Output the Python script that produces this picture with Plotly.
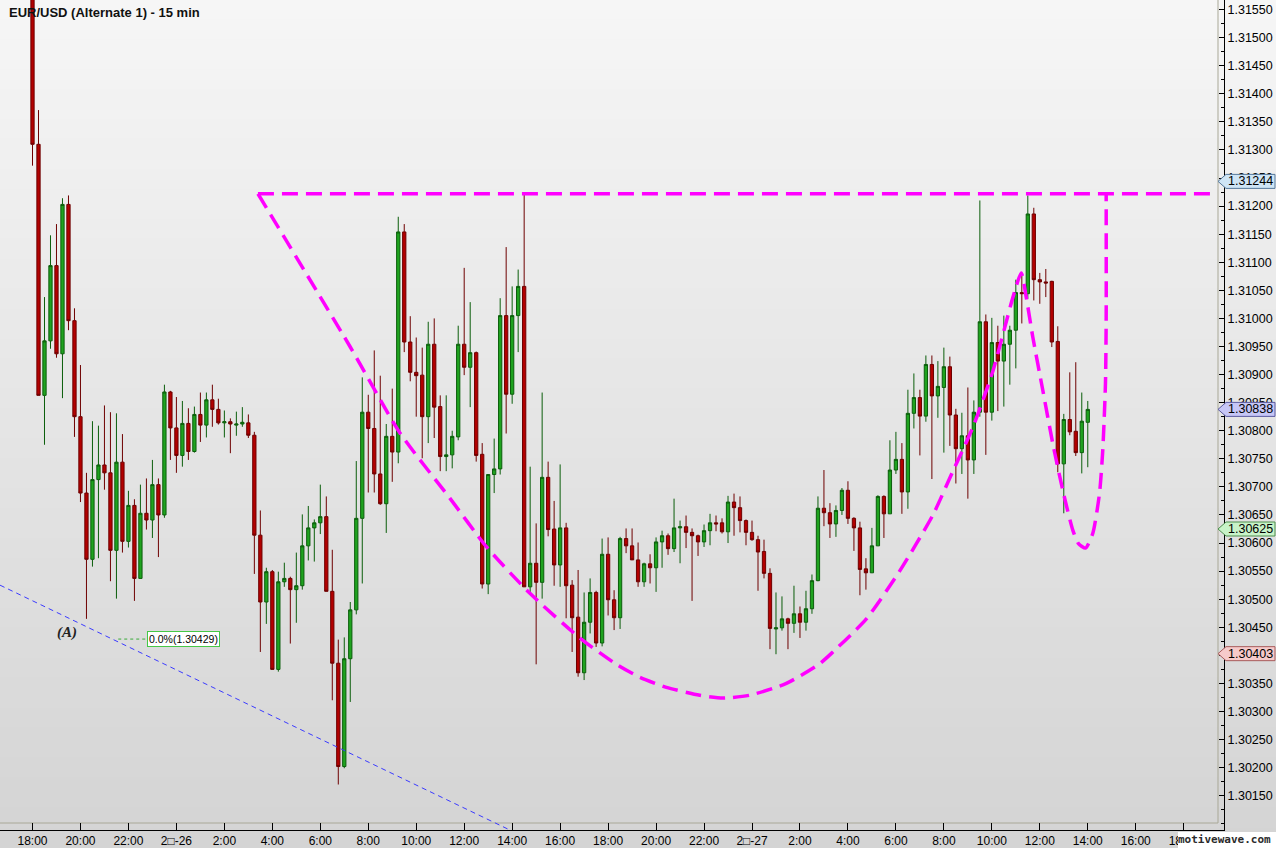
import plotly.graph_objects as go

# ---------------- data ----------------
title_text = "EUR/USD (Alternate 1) - 15 min"

opens = [1.31619, 1.31310, 1.30863, 1.30960, 1.31094, 1.30937, 1.31203, 1.30996, 1.30825, 1.30689,
         1.30571, 1.30713, 1.30739, 1.30725, 1.30587, 1.30744, 1.30603, 1.30667, 1.30537, 1.30653,
         1.30641, 1.30704, 1.30650, 1.30869, 1.30805, 1.30756, 1.30813, 1.30763, 1.30829, 1.30810,
         1.30855, 1.30838, 1.30814, 1.30816, 1.30810, 1.30812, 1.30814, 1.30792, 1.30614, 1.30495,
         1.30549, 1.30375, 1.30531, 1.30537, 1.30517, 1.30524, 1.30595, 1.30627, 1.30636, 1.30647,
         1.30514, 1.30386, 1.30202, 1.30394, 1.30481, 1.30644, 1.30833, 1.30804, 1.30723, 1.30670,
         1.30790, 1.30762, 1.31154, 1.30958, 1.30904, 1.30899, 1.30825, 1.30954, 1.30843, 1.30754,
         1.30757, 1.30789, 1.30954, 1.30913, 1.30939, 1.30758, 1.30527, 1.30722, 1.30732, 1.31005,
         1.30865, 1.31005, 1.31057, 1.30522, 1.30564, 1.30530, 1.30717, 1.30625, 1.30561, 1.30627,
         1.30525, 1.30468, 1.30369, 1.30459, 1.30512, 1.30422, 1.30580, 1.30499, 1.30467, 1.30608,
         1.30595, 1.30570, 1.30531, 1.30563, 1.30556, 1.30602, 1.30613, 1.30590, 1.30627, 1.30629,
         1.30619, 1.30613, 1.30602, 1.30622, 1.30636, 1.30636, 1.30620, 1.30673, 1.30663, 1.30640,
         1.30619, 1.30606, 1.30585, 1.30546, 1.30447, 1.30449, 1.30465, 1.30457, 1.30474, 1.30459,
         1.30483, 1.30533, 1.30662, 1.30654, 1.30634, 1.30658, 1.30694, 1.30644, 1.30627, 1.30554,
         1.30547, 1.30595, 1.30683, 1.30652, 1.30730, 1.30749, 1.30691, 1.30831, 1.30859, 1.30826,
         1.30918, 1.30862, 1.30877, 1.30914, 1.30828, 1.30768, 1.30791, 1.30748, 1.30833, 1.30994,
         1.30833, 1.30957, 1.30924, 1.30954, 1.30979, 1.31046, 1.31044, 1.31186, 1.31069, 1.31065,
         1.31066, 1.30959, 1.30741, 1.30820, 1.30799, 1.30761, 1.30815]

highs = [1.31637, 1.31371, 1.31038, 1.31148, 1.31168, 1.31214, 1.31219, 1.31018, 1.30917, 1.30725,
         1.30817, 1.30809, 1.30845, 1.30833, 1.30831, 1.30794, 1.30693, 1.30678, 1.30704, 1.30715,
         1.30748, 1.30715, 1.30882, 1.30871, 1.30860, 1.30853, 1.30840, 1.30843, 1.30868, 1.30868,
         1.30882, 1.30857, 1.30836, 1.30822, 1.30834, 1.30842, 1.30829, 1.30798, 1.30658, 1.30556,
         1.30552, 1.30549, 1.30565, 1.30540, 1.30583, 1.30651, 1.30666, 1.30642, 1.30704, 1.30683,
         1.30588, 1.30428, 1.30432, 1.30495, 1.30746, 1.30895, 1.30864, 1.30943, 1.30898, 1.30812,
         1.30875, 1.31181, 1.31168, 1.31004, 1.30966, 1.30948, 1.30994, 1.31000, 1.30863, 1.30863,
         1.30800, 1.30987, 1.31090, 1.31029, 1.30941, 1.30778, 1.30722, 1.30786, 1.31036, 1.31127,
         1.31057, 1.31087, 1.31221, 1.30736, 1.30635, 1.30868, 1.30745, 1.30675, 1.30740, 1.30636,
         1.30534, 1.30552, 1.30512, 1.30537, 1.30515, 1.30608, 1.30610, 1.30516, 1.30611, 1.30626,
         1.30626, 1.30601, 1.30565, 1.30580, 1.30610, 1.30622, 1.30617, 1.30679, 1.30640, 1.30649,
         1.30626, 1.30615, 1.30633, 1.30652, 1.30649, 1.30644, 1.30684, 1.30688, 1.30683, 1.30642,
         1.30640, 1.30613, 1.30606, 1.30555, 1.30512, 1.30505, 1.30467, 1.30524, 1.30487, 1.30515,
         1.30544, 1.30683, 1.30730, 1.30671, 1.30667, 1.30698, 1.30710, 1.30646, 1.30638, 1.30573,
         1.30627, 1.30685, 1.30685, 1.30783, 1.30798, 1.30778, 1.30873, 1.30902, 1.30873, 1.30934,
         1.30934, 1.30924, 1.30948, 1.30932, 1.30839, 1.30832, 1.30877, 1.30854, 1.31210, 1.31007,
         1.31001, 1.30987, 1.31005, 1.30987, 1.31069, 1.31077, 1.31219, 1.31197, 1.31081, 1.31088,
         1.31067, 1.30986, 1.30830, 1.30904, 1.30922, 1.30868, 1.30853]

lows = [1.31272, 1.30863, 1.30775, 1.30946, 1.30930, 1.30858, 1.30979, 1.30789, 1.30673, 1.30465,
        1.30558, 1.30573, 1.30695, 1.30532, 1.30501, 1.30583, 1.30592, 1.30497, 1.30537, 1.30624,
        1.30609, 1.30575, 1.30645, 1.30748, 1.30725, 1.30736, 1.30748, 1.30761, 1.30780, 1.30788,
        1.30807, 1.30811, 1.30788, 1.30760, 1.30791, 1.30807, 1.30787, 1.30545, 1.30406, 1.30456,
        1.30375, 1.30371, 1.30522, 1.30421, 1.30458, 1.30517, 1.30569, 1.30567, 1.30616, 1.30514,
        1.30320, 1.30170, 1.30199, 1.30317, 1.30473, 1.30528, 1.30690, 1.30690, 1.30668, 1.30618,
        1.30709, 1.30742, 1.30940, 1.30888, 1.30825, 1.30751, 1.30778, 1.30787, 1.30728, 1.30728,
        1.30733, 1.30783, 1.30899, 1.30842, 1.30745, 1.30519, 1.30509, 1.30689, 1.30722, 1.30795,
        1.30848, 1.30940, 1.30522, 1.30512, 1.30384, 1.30501, 1.30612, 1.30524, 1.30522, 1.30466,
        1.30406, 1.30362, 1.30356, 1.30439, 1.30415, 1.30416, 1.30471, 1.30445, 1.30447, 1.30582,
        1.30570, 1.30522, 1.30522, 1.30528, 1.30513, 1.30556, 1.30579, 1.30584, 1.30564, 1.30591,
        1.30497, 1.30577, 1.30593, 1.30596, 1.30621, 1.30617, 1.30600, 1.30613, 1.30619, 1.30596,
        1.30604, 1.30515, 1.30537, 1.30411, 1.30402, 1.30444, 1.30411, 1.30440, 1.30431, 1.30444,
        1.30474, 1.30532, 1.30630, 1.30609, 1.30611, 1.30650, 1.30634, 1.30586, 1.30507, 1.30517,
        1.30547, 1.30595, 1.30609, 1.30652, 1.30723, 1.30652, 1.30661, 1.30804, 1.30756, 1.30816,
        1.30714, 1.30823, 1.30761, 1.30773, 1.30706, 1.30723, 1.30679, 1.30723, 1.30825, 1.30757,
        1.30818, 1.30835, 1.30843, 1.30882, 1.30911, 1.30991, 1.31035, 1.31032, 1.31026, 1.31038,
        1.30949, 1.30726, 1.30653, 1.30792, 1.30755, 1.30724, 1.30735]

closes = [1.31310, 1.30863, 1.30960, 1.31094, 1.30937, 1.31203, 1.30996, 1.30825, 1.30689, 1.30571,
          1.30713, 1.30739, 1.30725, 1.30587, 1.30744, 1.30603, 1.30667, 1.30537, 1.30653, 1.30641,
          1.30704, 1.30650, 1.30869, 1.30805, 1.30756, 1.30813, 1.30763, 1.30829, 1.30810, 1.30855,
          1.30838, 1.30814, 1.30816, 1.30812, 1.30812, 1.30815, 1.30792, 1.30614, 1.30495, 1.30549,
          1.30375, 1.30531, 1.30537, 1.30517, 1.30524, 1.30595, 1.30627, 1.30636, 1.30647, 1.30514,
          1.30386, 1.30202, 1.30394, 1.30481, 1.30644, 1.30833, 1.30804, 1.30723, 1.30670, 1.30790,
          1.30762, 1.31154, 1.30958, 1.30904, 1.30898, 1.30825, 1.30954, 1.30842, 1.30754, 1.30757,
          1.30790, 1.30954, 1.30913, 1.30939, 1.30756, 1.30527, 1.30722, 1.30732, 1.31005, 1.30865,
          1.31005, 1.31057, 1.30522, 1.30564, 1.30530, 1.30717, 1.30624, 1.30561, 1.30627, 1.30524,
          1.30467, 1.30369, 1.30459, 1.30512, 1.30422, 1.30580, 1.30499, 1.30467, 1.30608, 1.30595,
          1.30570, 1.30531, 1.30563, 1.30556, 1.30602, 1.30613, 1.30590, 1.30627, 1.30629, 1.30619,
          1.30613, 1.30602, 1.30622, 1.30636, 1.30634, 1.30620, 1.30673, 1.30663, 1.30640, 1.30619,
          1.30606, 1.30584, 1.30546, 1.30448, 1.30449, 1.30465, 1.30457, 1.30474, 1.30459, 1.30483,
          1.30533, 1.30662, 1.30654, 1.30634, 1.30658, 1.30694, 1.30644, 1.30627, 1.30553, 1.30547,
          1.30595, 1.30683, 1.30652, 1.30730, 1.30749, 1.30691, 1.30831, 1.30859, 1.30826, 1.30918,
          1.30862, 1.30879, 1.30914, 1.30828, 1.30768, 1.30791, 1.30748, 1.30833, 1.30994, 1.30833,
          1.30957, 1.30924, 1.30954, 1.30979, 1.31046, 1.31044, 1.31186, 1.31069, 1.31065, 1.31063,
          1.30958, 1.30741, 1.30820, 1.30798, 1.30761, 1.30817, 1.30838]

bar_index = list(range(len(opens)))  # 15-minute bars starting 18:00

tick_bars = list(range(0, 193, 8))
tick_labels = ["18:00", "20:00", "22:00", "2\u25a1-26", "2:00", "4:00", "6:00", "8:00", "10:00",
               "12:00", "14:00", "16:00", "18:00", "20:00", "22:00", "2\u25a1-27", "2:00", "4:00",
               "6:00", "8:00", "10:00", "12:00", "14:00", "16:00", "18:00"]

price_ticks = [1.30150, 1.30200, 1.30250, 1.30300, 1.30350, 1.30400, 1.30450, 1.30500, 1.30550,
               1.30600, 1.30650, 1.30700, 1.30750, 1.30800, 1.30850, 1.30900, 1.30950, 1.31000,
               1.31050, 1.31100, 1.31150, 1.31200, 1.31250, 1.31300, 1.31350, 1.31400, 1.31450,
               1.31500, 1.31550]

# drawn objects (bar position, price)
resistance_price = 1.31222
resistance_bars = [37.6, 197.2]

cup_bars = [37.6, 52.95, 61.28, 69.6, 75.73, 83.0, 91.28, 97.4, 101.28, 105.73, 111.28, 115.17,
            119.62, 125.73, 131.28, 133.5, 139.07, 144.62, 150.17, 153.5, 156.83, 160.17, 163.5,
            164.9, 165.73, 166.83, 168.5, 170.17, 171.83, 173.5, 174.45, 175.62, 176.83, 177.95,
            178.5, 178.95, 179.07, 179.07]
cup_prices = [1.31222, 1.30950, 1.30796, 1.30680, 1.30593, 1.30510, 1.30431, 1.30384, 1.30361,
              1.30343, 1.30329, 1.30324, 1.30329, 1.30350, 1.30385, 1.30406, 1.30465, 1.30550,
              1.30650, 1.30728, 1.30806, 1.30906, 1.31037, 1.31081, 1.31038, 1.30967, 1.30872,
              1.30777, 1.30694, 1.30623, 1.30599, 1.30591, 1.30617, 1.30688, 1.30765, 1.30884,
              1.31002, 1.31222]

trend_bars = [-5.42, 80.0]
trend_prices = [1.30525, 1.30087]

fib_price = 1.30429
fib_label = "0.0%(1.30429)"
fib_line_bars = [14.3, 19.1]

wave_label = "(A)"
wave_bar = 5.8
wave_price = 1.30441

tag_prices = [1.31244, 1.30838, 1.30625, 1.30403]
tag_fills = ["#cfe5f5", "#c6c6f6", "#c8f3c8", "#f6caca"]
tag_borders = ["#56789a", "#5a5aa0", "#4f8f4f", "#a85c5c"]

watermark = "motivewave.com"

# ---------------- figure ----------------
W, H = 1276, 848
x_range = [-5.42, 198.72]
y_range = [1.30089, 1.31567]
x_dom_end = 1224 / W
y_dom_start = 18 / H

fig = go.Figure()

fig.add_trace(go.Candlestick(
    x=bar_index, open=opens, high=highs, low=lows, close=closes,
    increasing=dict(fillcolor="#1fa31f", line=dict(color="#0b5e0b", width=1)),
    decreasing=dict(fillcolor="#b30000", line=dict(color="#6e0000", width=1)),
    whiskerwidth=0, showlegend=False, hoverinfo="skip",
))

# blue trendline
fig.add_trace(go.Scatter(x=trend_bars, y=trend_prices, mode="lines",
                         line=dict(color="#3b3bff", width=1, dash="5px,4px"),
                         showlegend=False, hoverinfo="skip"))

# fib marker line
fig.add_trace(go.Scatter(x=fib_line_bars, y=[fib_price, fib_price], mode="lines",
                         line=dict(color="#3aaa3a", width=1, dash="3px,3px"),
                         showlegend=False, hoverinfo="skip"))

# magenta resistance and cup
mag = dict(color="#ff00ff", width=3.5, dash="16px,8px")
fig.add_trace(go.Scatter(x=resistance_bars, y=[resistance_price, resistance_price], mode="lines",
                         line=mag, showlegend=False, hoverinfo="skip"))
fig.add_trace(go.Scatter(x=cup_bars, y=cup_prices, mode="lines",
                         line=dict(mag, shape="spline", smoothing=0.6),
                         showlegend=False, hoverinfo="skip"))

shapes = []
# vertical gradient background
n_bands = 85
top_c, bot_c = 246, 212
for i in range(n_bands):
    c = round(top_c + (bot_c - top_c) * i / (n_bands - 1))
    shapes.append(dict(type="rect", xref="paper", yref="paper", x0=0, x1=1,
                       y0=1 - (i + 1) / n_bands, y1=1 - i / n_bands + 0.001,
                       fillcolor=f"rgb({c},{c},{c})", line=dict(width=0), layer="below"))
# inner frame lines
shapes.append(dict(type="line", xref="paper", yref="paper", x0=1218 / W, x1=1218 / W,
                   y0=25 / H, y1=1, line=dict(color="#a9a897", width=1), layer="below"))
shapes.append(dict(type="line", xref="paper", yref="paper", x0=0, x1=1218 / W,
                   y0=25 / H, y1=25 / H, line=dict(color="#a9a897", width=1), layer="below"))
# white box behind the watermark
shapes.append(dict(type="rect", xref="paper", yref="paper", x0=1178 / W, x1=1,
                   y0=0, y1=16 / H, fillcolor="white", line=dict(width=0), layer="above"))

# price tags on the axis
tag_half = 7 * (y_range[1] - y_range[0]) / 830
xt, xb, xr = 1218 / W, 1226 / W, 1275 / W
annotations = []
for p, fc, bc in zip(tag_prices, tag_fills, tag_borders):
    path = (f"M {xt},{p} L {xb},{p + tag_half} L {xr},{p + tag_half} "
            f"L {xr},{p - tag_half} L {xb},{p - tag_half} Z")
    shapes.append(dict(type="path", xref="paper", yref="y", path=path,
                       fillcolor=fc, line=dict(color=bc, width=1), layer="above"))
    annotations.append(dict(xref="paper", yref="y", x=1250 / W, y=p, text=f"{p:.5f}",
                            showarrow=False, xanchor="center", yanchor="middle",
                            font=dict(family="Liberation Sans, Arial", size=12.5, color="#000")))

annotations += [
    dict(xref="paper", yref="paper", x=7 / W, y=1 - 12 / H, text=f"<b>{title_text}</b>",
         showarrow=False, xanchor="left", yanchor="middle",
         font=dict(family="Liberation Sans, Arial", size=13, color="#111")),
    dict(xref="x", yref="y", x=wave_bar, y=wave_price, text=f"<b><i>{wave_label}</i></b>",
         showarrow=False, xanchor="center", yanchor="middle",
         font=dict(family="Liberation Serif, Times New Roman", size=15, color="#222")),
    dict(xref="x", yref="y", x=fib_line_bars[1], y=fib_price, text=fib_label,
         showarrow=False, xanchor="left", yanchor="middle", bgcolor="white",
         bordercolor="#46c846", borderwidth=1, borderpad=1,
         font=dict(family="Liberation Sans, Arial", size=10.5, color="#000")),
    dict(xref="paper", yref="paper", x=1273 / W, y=8.5 / H, text=f"<b>{watermark}</b>",
         showarrow=False, xanchor="right", yanchor="middle",
         font=dict(family="DejaVu Sans Mono", size=11, color="#2b2b2b")),
]

fig.update_layout(
    width=W, height=H, margin=dict(l=0, r=0, t=0, b=0),
    paper_bgcolor="#e4e4e4", plot_bgcolor="rgba(0,0,0,0)",
    showlegend=False, boxgap=0.22,
    shapes=shapes, annotations=annotations,
    xaxis=dict(domain=[0, x_dom_end], range=x_range, anchor="y",
               tickmode="array", tickvals=tick_bars, ticktext=tick_labels,
               ticks="inside", ticklen=7, tickcolor="#000", showline=True, linecolor="#000",
               linewidth=1, showgrid=False, zeroline=False, automargin=False,
               rangeslider=dict(visible=False),
               tickfont=dict(family="Liberation Sans, Arial", size=12, color="#000")),
    yaxis=dict(domain=[y_dom_start, 1], range=y_range, anchor="x", side="right",
               tickmode="array", tickvals=price_ticks,
               ticktext=[f"{v:.5f}" for v in price_ticks],
               ticks="inside", ticklen=5, tickcolor="#000", showline=True, linecolor="#000",
               linewidth=1, showgrid=False, zeroline=False, automargin=False,
               minor=dict(tickmode="linear", tick0=1.3, dtick=0.00025, ticks="inside",
                          ticklen=3, tickcolor="#000"),
               tickfont=dict(family="Liberation Sans, Arial", size=12.5, color="#000")),
)

fig.write_html("out.html", config={"displayModeBar": False},
               post_script="document.body.style.margin='0';document.body.style.overflow='hidden';")
